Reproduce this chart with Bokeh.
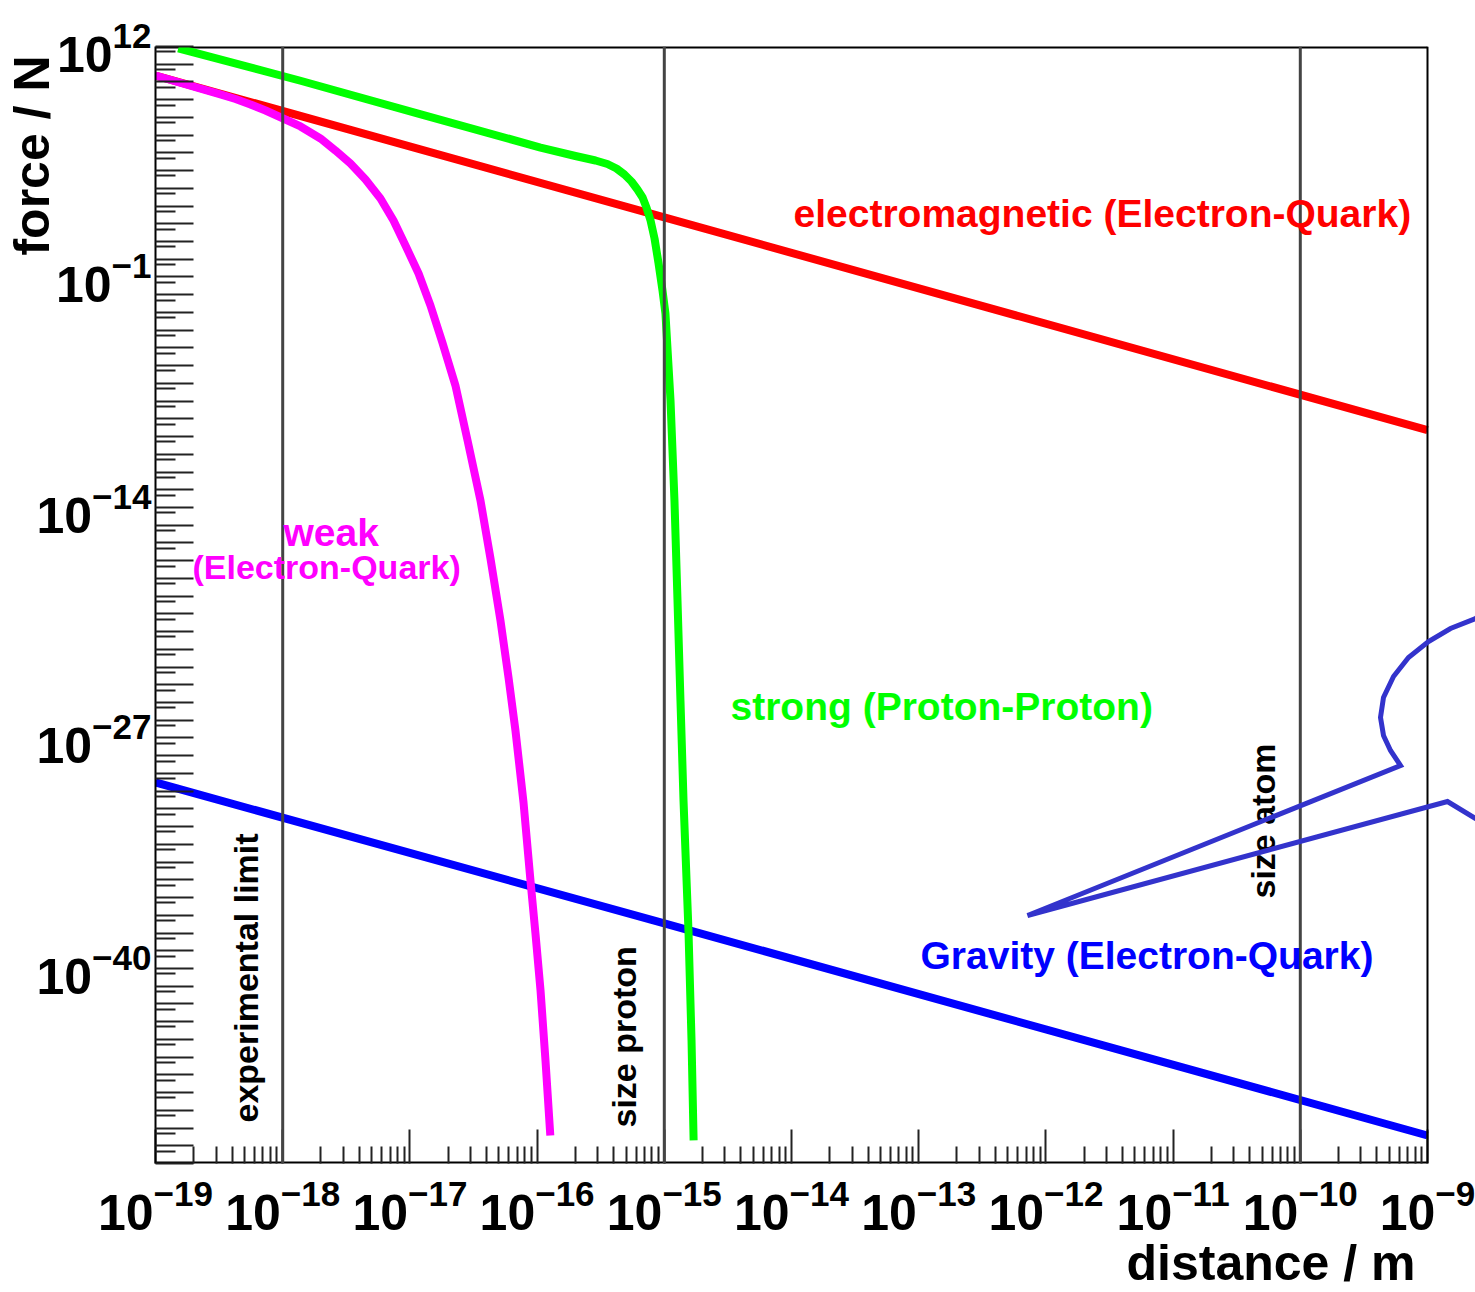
import math
from bokeh.plotting import figure
from bokeh.models import FixedTicker, Span, Label, PolyAnnotation, Title
from bokeh.embed import file_html
from bokeh.resources import INLINE

# ---------------- data ----------------
em_x = [1e-19, 1e-15, 1e-9]
em_y = [2.3e10, 2.3e2, 2.3e-10]

grav_x = [1e-19, 1e-15, 1e-9]
grav_y = [3.1e-30, 3.5e-38, 3.8e-50]

weak_x = [1.0e-19, 3.24e-19, 4.26e-19, 5.58e-19, 7.33e-19, 1.01e-18, 1.38e-18,
          1.98e-18, 2.60e-18, 3.41e-18, 4.48e-18, 5.87e-18, 7.43e-18, 9.23e-18,
          1.17e-17, 1.45e-17, 1.80e-17, 2.28e-17, 2.84e-17, 3.59e-17, 4.30e-17,
          5.15e-17, 5.96e-17, 6.76e-17, 7.82e-17, 8.87e-17, 9.71e-17, 1.064e-16,
          1.164e-16, 1.27e-16]
weak_y = [2.3e10, 2.0e9, 1.09e9, 5.4e8, 2.45e8, 8.7e7, 3.08e7,
          6.5e6, 1.36e6, 2.5e5, 3.15e4, 2.7e3, 1.53e2, 6.0,
          0.157, 2.5e-3, 2.02e-5, 7.6e-8, 6.0e-11, 2.45e-14, 1.32e-17,
          4.3e-21, 2.57e-24, 2.6e-27, 2.29e-31, 9.1e-36, 9.3e-39, 5.8e-42,
          6.5e-46, 3.8e-50]

strong_x = [1.51e-19, 1.38e-18, 1.20e-17, 1.064e-16, 2.00e-16, 2.88e-16, 3.57e-16,
            4.21e-16, 4.86e-16, 5.52e-16, 6.15e-16, 6.75e-16, 7.24e-16, 7.80e-16,
            8.38e-16, 8.99e-16, 9.68e-16, 1.021e-15, 1.119e-15, 1.202e-15, 1.27e-15,
            1.34e-15, 1.416e-15, 1.549e-15, 1.637e-15, 1.70e-15]
strong_y = [7.9e11, 1.17e10, 1.55e8, 2.0e6, 6.67e5, 3.72e5, 2.36e5,
            1.32e5, 6.04e4, 2.43e4, 8.6e3, 3.04e3, 8.3e2, 1.53e2,
            14.8, 0.656, 1.73e-2, 8.7e-4, 1.07e-8, 2.45e-14, 5.6e-20,
            1.29e-25, 2.95e-31, 1.38e-38, 8.7e-45, 2.0e-50]

scale_x = [1e-18, 1e-15, 1e-10]
scale_names = ["experimental limit", "size proton", "size atom"]

x_lo, x_hi = 1e-19, 1e-9
y_lo, y_hi = 1e-51, 1e12
x_decades = list(range(-19, -8))
y_decades = list(range(-51, 13))
y_label_exps = [12, -1, -14, -27, -40]

# ---------------- figure ----------------
FONT = "Liberation Sans"
FL, FB = 155, 1163      # frame left / bottom in page pixels
AXIS_W = 1272           # drawn axis box width in pixels (box ends 48px before the canvas edge)
FRAME_W = 1475 - FL     # frame runs to the canvas edge so the callout can leave the box
x_view_hi = 10 ** (math.log10(x_lo) + math.log10(x_hi / x_lo) * FRAME_W / AXIS_W)


def sx(px):
    return px - FL


def sy(py):
    return FB - py


p = figure(width=1475, height=1292, x_axis_type="log", y_axis_type="log",
           x_range=(x_lo, x_view_hi), y_range=(y_lo, y_hi),
           output_backend="svg", toolbar_location=None,
           min_border_left=155, min_border_right=0,
           min_border_top=46, min_border_bottom=129)
p.xgrid.visible = False
p.ygrid.visible = False
p.outline_line_color = None
p.background_fill_color = "white"
p.border_fill_color = "white"

# x axis
xt = [10.0 ** k for k in x_decades]
xm = [m * 10.0 ** k for k in x_decades[:-1] for m in range(2, 10)]
p.xaxis.ticker = FixedTicker(ticks=xt, minor_ticks=xm)
# y axis
yt = [10.0 ** k for k in y_decades]
ym = [5 * 10.0 ** k for k in range(-52, 12)]
p.yaxis.ticker = FixedTicker(ticks=yt, minor_ticks=ym)
p.yaxis.major_label_overrides = {t: "" for k, t in zip(y_decades, yt) if k not in y_label_exps}

for ax in (p.xaxis[0], p.yaxis[0]):
    ax.axis_line_color = "black"
    ax.axis_line_width = 2
    ax.major_tick_line_color = "#222222"
    ax.minor_tick_line_color = "#222222"
    ax.major_tick_line_width = 2
    ax.minor_tick_line_width = 2
    ax.major_tick_out = 0
    ax.minor_tick_out = 0
    ax.major_label_text_font = FONT
    ax.major_label_text_font_style = "bold"
    ax.major_label_text_font_size = "50px"
    ax.major_label_text_color = "black"

p.xaxis.axis_line_color = None   # bottom edge of the box is drawn below
p.xaxis.major_tick_in = 34
p.xaxis.minor_tick_in = 17
p.xaxis.major_label_standoff = 15
p.yaxis.major_tick_in = 38
p.yaxis.minor_tick_in = 20
p.yaxis.major_label_standoff = 4

# axis box (top, bottom, right edges)
p.segment(x0=[x_lo, x_lo], y0=[y_hi, y_lo], x1=[x_hi, x_hi], y1=[y_hi, y_lo],
          line_color="black", line_width=4)
p.add_layout(Span(location=x_hi, dimension="height", line_color="black", line_width=2))

# axis titles (ROOT style: at the far end of each axis)
xtitle = Title(text="distance / m", align="right", offset=12 + (FRAME_W - AXIS_W),
               text_font=FONT, text_font_style="bold", text_font_size="50px",
               text_color="black")
ytitle = Title(text="force / N", align="right", offset=9,
               text_font=FONT, text_font_style="bold", text_font_size="50px",
               text_color="black")
try:
    xtitle.standoff = 0
    ytitle.standoff = -52
except Exception:
    pass
p.add_layout(xtitle, "below")
p.add_layout(ytitle, "left")

# curves
p.line(em_x, em_y, line_color="#ff0000", line_width=8)
p.line(grav_x, grav_y, line_color="#0000ff", line_width=8)
p.line(weak_x, weak_y, line_color="#ff00ff", line_width=8, line_join="round")
p.line(strong_x, strong_y, line_color="#00ff00", line_width=8, line_join="round")

# scale markers
for xv in scale_x:
    p.add_layout(Span(location=xv, dimension="height", line_color="#444444", line_width=3))

rot = [(245, 1122), (623, 1127), (1262, 898)]
for name, (px, py) in zip(scale_names, rot):
    p.add_layout(Label(x=sx(px), y=sy(py), x_units="screen", y_units="screen",
                       text=name, angle=math.pi / 2, text_align="left",
                       text_baseline="alphabetic", text_font=FONT,
                       text_font_style="bold", text_font_size="34px",
                       text_color="black"))

# curve names
names = [
    ("electromagnetic (Electron-Quark)", "#ff0000", 793, 213, 39),
    ("weak", "#ff00ff", 283, 532, 39),
    ("(Electron-Quark)", "#ff00ff", 192, 566, 34),
    ("strong (Proton-Proton)", "#00ff00", 730, 706, 39),
    ("Gravity (Electron-Quark)", "#0000ff", 920, 955, 39),
]
for txt, col, px, py, fs in names:
    p.add_layout(Label(x=sx(px), y=sy(py), x_units="screen", y_units="screen",
                       text=txt, text_align="left", text_baseline="alphabetic",
                       text_font=FONT, text_font_style="bold",
                       text_font_size=f"{fs}px", text_color=col))

# speech-bubble callout (decoration)
bubble = [(1500, 600), (1475, 618), (1450, 628), (1428, 641), (1408, 657), (1393, 676),
          (1383, 697), (1380, 717), (1383, 735), (1390, 750), (1400, 765), (1027, 915),
          (1447, 801), (1475, 818), (1500, 830)]
p.add_layout(PolyAnnotation(xs=[sx(a) for a, b in bubble], ys=[sy(b) for a, b in bubble],
                            xs_units="screen", ys_units="screen",
                            fill_color=None, fill_alpha=0,
                            line_color="#3333cc", line_alpha=1.0, line_width=5,
                            line_join="miter"))

open("out.html", "w").write(file_html(p, INLINE))
